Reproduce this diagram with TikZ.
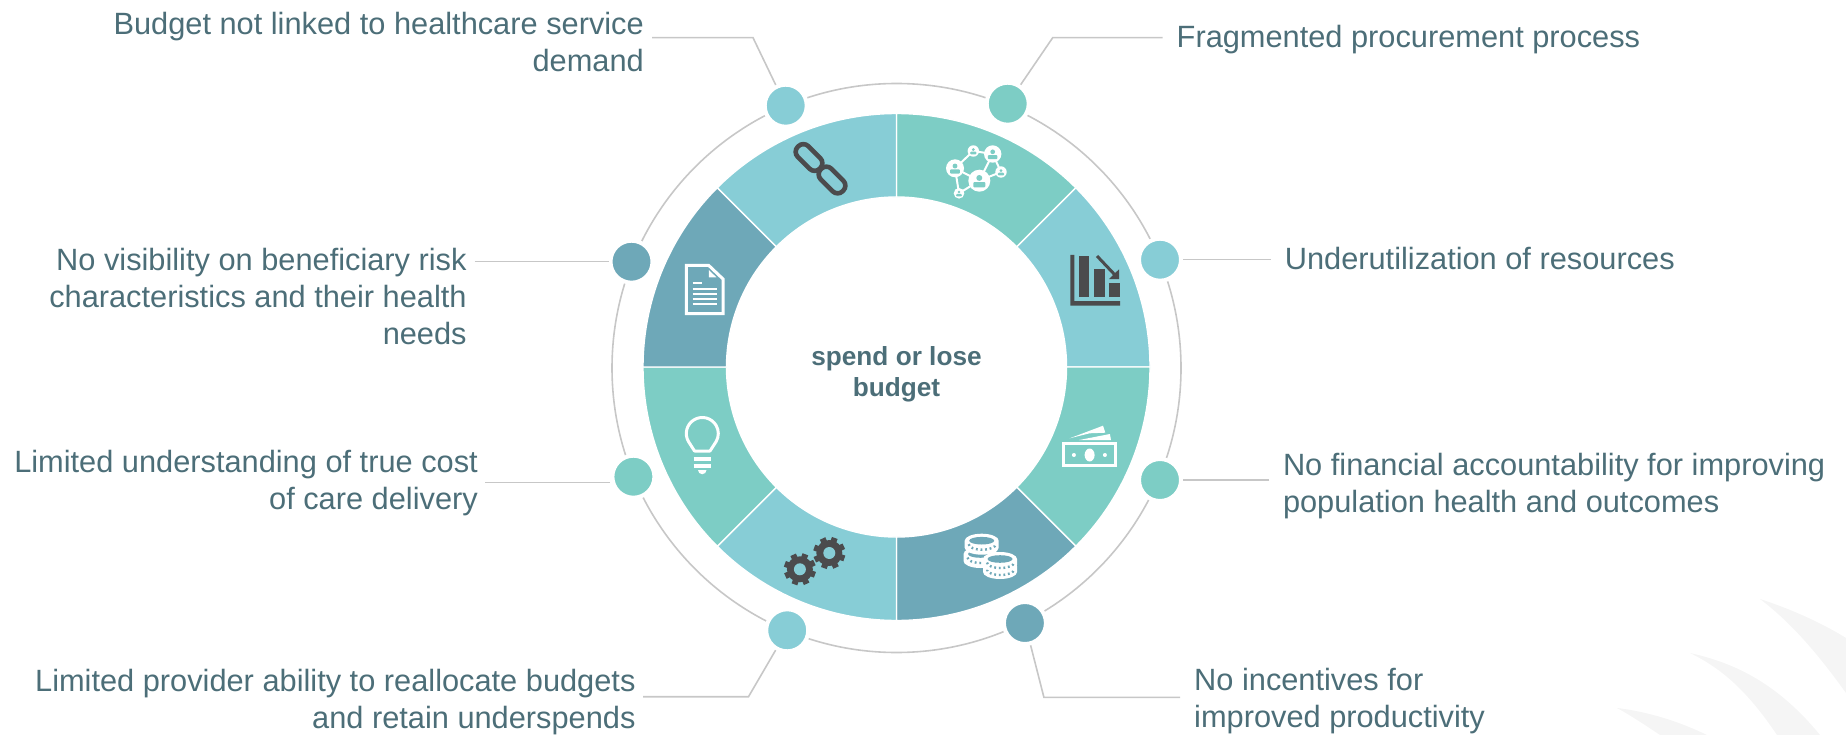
\documentclass[tikz,border=0pt]{standalone}
\usepackage{fontspec}
\setmainfont{Liberation Sans}
\definecolor{seggreen}{HTML}{7DCDC5}
\definecolor{seglight}{HTML}{87CDD6}
\definecolor{segdark}{HTML}{6EA8B8}
\definecolor{inkgrey}{HTML}{4B4B4D}
\definecolor{labelink}{HTML}{4C6E78}
\definecolor{leafgrey}{HTML}{F5F5F5}
\tikzset{
  ringdot/.style={circle, draw=white, line width=4pt, minimum size=42pt, inner sep=0pt},
  labeltext/.style={text=labelink, font=\fontsize{30.77}{37}\selectfont, inner sep=0pt},
  leader/.style={draw=black!22, line width=1.6pt},
  chainlink/.style={draw=inkgrey, line width=4.6pt, rounded corners=7pt, minimum width=31pt, minimum height=15pt, inner sep=0pt, rotate=-45}
}

\begin{document}
\begin{tikzpicture}[x=1pt, y=-1pt]
\useasboundingbox (0,0) rectangle (1846,735);
\coordinate (ctr) at (896.5,367);

% leaf in the corner
\fill[leafgrey] (1760,599) .. controls (1800,612) and (1830,628) .. (1846,638) -- (1846,693) .. controls (1815,650) and (1790,622) .. cycle;
\fill[leafgrey] (1690,653) .. controls (1730,662) and (1775,680) .. (1820,735) -- (1777,735) .. controls (1750,695) and (1725,670) .. cycle;
\fill[leafgrey] (1617,708) .. controls (1650,712) and (1680,722) .. (1707,735) -- (1660,735) .. controls (1645,725) and (1630,715) .. cycle;

% ring
\draw[black!22, line width=1.6pt] (896.5,368) circle[radius=284.5];
\foreach \a/\b/\col in {-90/-45/seggreen, -45/0/seglight, 0/45/seggreen, 45/90/segdark, 90/135/seglight, 135/180/seggreen, 180/225/segdark, 225/270/seglight}
  \path[fill=\col, draw=white, line width=1.4pt] (ctr) ++(\a:253.5) arc[start angle=\a, end angle=\b, radius=253.5] -- ([shift={(\b:170)}]ctr) arc[start angle=\b, end angle=\a, radius=170] -- cycle;

\node (centre) [text=labelink, font=\fontsize{26.2}{31}\selectfont\bfseries, align=center, inner sep=0pt, anchor=base] at (896.5,396) {spend or lose\\budget};

% dots
\node (dotTL) [ringdot, fill=seglight] at (785.7,105.7) {};
\node (dotTR) [ringdot, fill=seggreen] at (1007.7,103.7) {};
\node (dotRU) [ringdot, fill=seglight] at (1160,259.7) {};
\node (dotRL) [ringdot, fill=seggreen] at (1160,480) {};
\node (dotBR) [ringdot, fill=segdark] at (1024.9,623) {};
\node (dotBL) [ringdot, fill=seglight] at (787.2,630.3) {};
\node (dotLL) [ringdot, fill=seggreen] at (633.4,476.7) {};
\node (dotLU) [ringdot, fill=segdark] at (631.5,261.7) {};

% labels
\node (textTL) [labeltext, align=right, anchor=base east] at (644,71.5) {Budget not linked to healthcare service\\demand};
\node (textTR) [labeltext, align=left, anchor=base west] at (1176.5,47.5) {Fragmented procurement process};
\node (textRU) [labeltext, align=left, anchor=base west] at (1284.6,269.5) {Underutilization of resources};
\node (textRL) [labeltext, align=left, anchor=base west] at (1282.8,512) {No financial accountability for improving\\population health and outcomes};
\node (textBR) [labeltext, align=left, anchor=base west] at (1194,727) {No incentives for\\improved productivity};
\node (textBL) [labeltext, align=right, anchor=base east] at (635.7,728.5) {Limited provider ability to reallocate budgets\\and retain underspends};
\node (textLL) [labeltext, align=right, anchor=base east] at (478,509.5) {Limited understanding of true cost\\of care delivery};
\node (textLU) [labeltext, align=right, anchor=base east] at (466.8,344) {No visibility on beneficiary risk\\characteristics and their health\\needs};

% leaders
\coordinate (startTL) at (652,37.7);
\coordinate (kneeTL) at (753,37.7);
\coordinate (startTR) at (1162.5,37.7);
\coordinate (kneeTR) at (1052.7,37.7);
\coordinate (startRU) at (1270.5,259.7);
\coordinate (startRL) at (1269.4,480);
\coordinate (startBR) at (1180,697.3);
\coordinate (kneeBR) at (1043.9,697.3);
\coordinate (startBL) at (643,696.7);
\coordinate (kneeBL) at (748.5,696.7);
\coordinate (startLL) at (485,482.3);
\coordinate (startLU) at (474.5,261.7);
\draw[leader] (startTL) -- (kneeTL) -- (dotTL);
\draw[leader] (startTR) -- (kneeTR) -- (dotTR);
\draw[leader] (startRU) -- (dotRU);
\draw[leader] (startRL) -- (dotRL);
\draw[leader] (startBR) -- (kneeBR) -- (dotBR);
\draw[leader] (startBL) -- (kneeBL) -- (dotBL);
\draw[leader] (startLL) -- (startLL -| dotLL.west);
\draw[leader] (startLU) -- (dotLU);

% chain
\node (linkA) [chainlink] at (809,157.5) {};
\node (linkB) [chainlink] at (832,180) {};

% network
\draw[white, line width=2pt] (955,168.3) -- (973.3,151) -- (992.7,154) -- (979.3,180.7) -- (955,168.3) -- (959,193.3) -- (979.3,180.7) -- (1001,172) -- (992.7,154);
\foreach \x/\y/\r in {979.3/180.7/11, 955/168.3/9, 992.7/154/8.7, 973.3/151/5.7, 1001/172/5.7, 959/193.3/5.3} {
  \fill[white] (\x,\y) circle[radius=\r];
  \fill[seggreen] (\x,{\y-0.25*\r}) circle[radius=0.27*\r];
  \fill[seggreen, rounded corners=1pt] ({\x-0.55*\r},{\y+0.6*\r}) rectangle ({\x+0.55*\r},{\y+0.12*\r});
}

% bars
\fill[inkgrey] (1070.3,255) -- (1074.3,255) -- (1074.3,301) -- (1120,301) -- (1120,305.7) -- (1070.3,305.7) -- cycle;
\fill[inkgrey] (1079,255.7) rectangle (1089.3,296.7);
\fill[inkgrey] (1093.7,269.3) rectangle (1104.7,296.7);
\fill[inkgrey] (1109,282.7) rectangle (1120,296.7);
\draw[inkgrey, line width=3pt] (1097,256) -- (1115,275);
\fill[inkgrey] (1119,269.3) -- (1119,279) -- (1109,279) -- cycle;

% money
\draw[white, line width=3pt] (1063.5,443.5) rectangle (1115.5,465.8);
\fill[white] (1089.6,455) ellipse[x radius=5, y radius=6.5];
\fill[white] (1073.9,455) circle[radius=2];
\fill[white] (1104.9,455) circle[radius=2];
\fill[white] (1069.7,438.3) -- (1103,425.7) -- (1105.3,432.7) -- (1089.7,433.3) -- cycle;
\fill[white] (1079.2,440) -- (1109.9,434) -- (1111,440) -- cycle;

% coins
\foreach \x/\y/\h in {980.5/554/7, 981.7/540.7/7, 1000/566/6, 1000/559/6} {
  \fill[white] (\x-17,\y) -- (\x-17,\y+\h) arc[start angle=180, end angle=0, x radius=17, y radius=7] -- (\x+17,\y) arc[start angle=0, end angle=-180, x radius=17, y radius=7] -- cycle;
  \fill[segdark] (\x,\y) ellipse[x radius=12.5, y radius=3.8];
  \draw[segdark, line width=2.4pt, dash pattern=on 1.8pt off 2.8pt] (\x-13,\y+3.5) arc[start angle=180, end angle=0, x radius=13.5, y radius=5.5];
}

% gears
\foreach \x/\y in {799.9/569.3, 829.3/553} {
  \fill[inkgrey] (\x,\y) circle[radius=13];
  \foreach \t in {0,45,...,315}
    \draw[inkgrey, line width=6pt] (\x,\y) ++(\t+20:10) -- ++(\t+20:6);
  \fill[seglight] (\x,\y) circle[radius=6];
}

% bulb
\draw[white, line width=3pt, line join=round] (694.5,451) -- (688.44,441.5) arc[start angle=150, end angle=390, radius=16] -- (710,451) -- cycle;
\draw[white, line width=4pt] (693.5,458.7) -- (711,458.7);
\draw[white, line width=4pt] (693.5,465.7) -- (711,465.7);
\fill[white] (698,470) -- (706.5,470) arc[start angle=0, end angle=180, radius=4.25] -- cycle;

% page
\draw[white, line width=3pt] (686.3,265.5) -- (708.8,265.5) -- (723,279) -- (723,313.5) -- (686.3,313.5) -- cycle;
\fill[white] (708.8,270) -- (708.8,277.3) -- (716.4,277.3) -- cycle;
\draw[white, line width=2.2pt] (692.7,283.3) -- (701.5,283.3);
\draw[white, line width=2.2pt] (692.7,289.3) -- (716.8,289.3);
\draw[white, line width=2.2pt] (692.7,294) -- (716.8,294);
\draw[white, line width=2.2pt] (692.7,299) -- (716.8,299);
\draw[white, line width=2.2pt] (692.7,304.3) -- (716.8,304.3);
\end{tikzpicture}
\end{document}
